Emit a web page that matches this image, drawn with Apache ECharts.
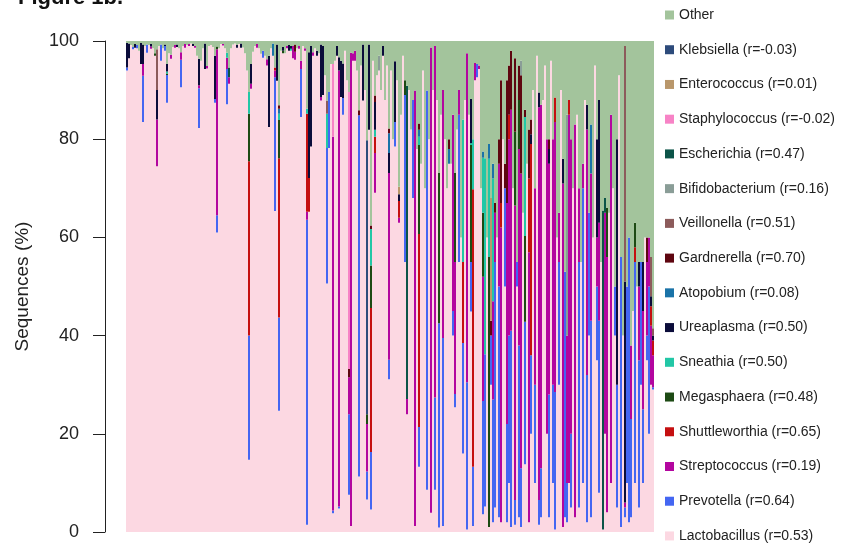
<!DOCTYPE html>
<html>
<head>
<meta charset="utf-8">
<script src="https://cdn.jsdelivr.net/npm/echarts@6/dist/echarts.min.js"></script>
<style>
  html, body { margin: 0; padding: 0; background: #ffffff; }
  #chart { width: 854px; height: 548px; }
</style>
</head>
<body>
<div id="chart"></div>
<script>
// 264 samples, percentages of sequences per genus (stacked to 100).
const sampleCount = 264;

// Dense columns: present in every sample.
const lactobacillus = [
  94, 96.5, 99.2, 98.3, 98.6, 98.5, 98, 95.3, 83.5, 99,
  97.6, 99.2, 98.4, 98.5, 97, 74.5, 99, 96, 98.5, 98,
  87.4, 97.5, 96.4, 98.8, 98.6, 98.8, 98.5, 90.6, 99, 98.6,
  99.2, 99, 99.5, 99, 98.6, 97, 82.3, 96, 98.5, 94.3,
  94.4, 99, 99.2, 98.8, 87.4, 61, 98.5, 99.4, 99.1, 98.5,
  87.1, 91.3, 98.5, 99.3, 99.5, 98.6, 99.4, 98.6, 98.7, 97.5,
  94, 14.7, 90.3, 97.8, 99, 98.6, 98.5, 97.4, 96.6, 97,
  95, 82.5, 98.5, 97, 65.4, 91.9, 24.7, 98, 97.5, 97.5,
  98.5, 98, 98, 96.5, 96.2, 98.5, 98.4, 84.5, 99, 98,
  1.5, 65.2, 78.5, 97, 98.5, 97, 97.5, 87.9, 89, 93,
  50.6, 78.2, 95.3, 3.8, 96, 97, 4.8, 88.6, 85, 98,
  92, 7.6, 1.2, 96, 96, 94, 11.3, 95, 87.9, 90,
  6.6, 81.9, 4.6, 96, 69.1, 93, 94, 90, 97, 88,
  95, 31.1, 94, 80, 78.5, 92, 63, 85, 97, 55,
  24, 90, 82, 68, 1.2, 78, 13.3, 75, 94, 70,
  8.6, 80, 3.9, 90, 8.6, 88, 0.9, 85, 1.2, 80,
  70, 75, 75, 40, 25.4, 82, 55, 60, 16, 88,
  0.5, 85, 44.9, 1.2, 92, 92.6, 94.3, 70, 3.6, 5.2,
  60, 1, 30, 2, 5, 60, 3, 2, 80, 50,
  2, 10, 1, 70, 1.5, 50, 3, 1, 65, 13.8,
  75, 2, 20, 90, 10, 97, 1.5, 3, 88, 95,
  20, 3, 96, 10, 0.5, 60, 30, 90, 1, 3,
  2, 10, 5, 70, 3, 85, 5, 55, 10, 88,
  2, 40, 3, 60, 95, 35, 8, 55, 0.5, 20,
  4, 65, 10, 70, 40, 5, 93, 1, 40, 3,
  10, 2, 3, 45, 10, 50, 5, 30, 10, 60,
  35, 20, 30, 29
];

const other = [
  0.4, 0.5, 0.8, 1.2, 0.6, 0.8, 2, 0.4, 0.7, 1,
  0.7, 0.8, 0.6, 1.5, 2.5, 1.7, 1, 0.7, 1.5, 0.7,
  4.7, 2.5, 2.8, 1.2, 0.8, 0.7, 1.5, 2.3, 1, 0.6,
  0.8, 0.6, 0.5, 0.6, 1, 3, 3.6, 4, 1.5, 0.5,
  5.1, 1, 0.8, 1.2, 3, 1.1, 1.5, 0.6, 0.6, 1.5,
  2.4, 5.4, 1.5, 0.7, 0.5, 0.8, 0.6, 0.5, 1.3, 2.5,
  6, 10.4, 4.7, 2.2, 1, 0.6, 1.5, 2.6, 2, 3,
  3.7, 3, 1.5, 0.5, 5.4, 0.7, 13.1, 2, 1.2, 2.5,
  1, 0.8, 1, 1, 0.7, 1.5, 1, 4, 1, 1.5,
  13.8, 2.3, 1, 2.3, 1.5, 2, 2.5, 0.7, 1, 7,
  12.1, 10.4, 4.7, 4.7, 4, 1, 3.3, 4, 4.6, 2,
  8, 10.4, 2.4, 2.5, 2, 6, 14.1, 5, 0.7, 10,
  20.2, 0.7, 37.6, 4, 11.1, 7, 3, 10, 1, 12,
  5, 17.8, 6, 20, 4.1, 8, 29.7, 15, 3, 8,
  9.1, 10, 18, 12, 10.1, 22, 16.8, 25, 6, 30,
  10.1, 20, 1.3, 10, 1, 12, 26.9, 15, 10, 20,
  30, 20, 25, 15, 26.9, 18, 10, 40, 16, 12,
  2.5, 15, 11.8, 20, 4.5, 4.7, 5, 30, 22.5, 23.9,
  40, 21, 32, 25, 33, 40, 20, 8, 20, 25,
  8, 5, 2, 30, 3.5, 45, 5, 4, 35, 14,
  25, 18, 16, 10, 30, 3, 10.5, 13, 12, 5,
  20, 20, 4, 20, 11.5, 40, 35, 10, 24, 47,
  15, 12, 20, 30, 17, 15, 30, 45, 25, 12,
  13, 35, 17, 40, 5, 20, 12, 45, 34.5, 32,
  34, 35, 15, 30, 50, 20, 7, 44, 60, 1,
  50, 40, 62, 55, 37, 50, 45, 45, 45, 40,
  40, 40, 44, 58.5
];

// Sparse columns: [sample index, percent]; absent samples are 0.
const prevotella = [[0,0.6],[3,0.5],[5,0.7],[8,9.4],[10,1.7],[17,3.3],[19,1],[20,5.7],[27,5.6],[36,8.1],[44,0.8],[45,3.5],[50,7.2],[61,25.3],[68,1.4],[74,27.2],[76,19],[87,9.8],[90,62.1],[100,27.6],[101,11.4],[103,0.6],[106,0.4],[108,3.4],[111,16.4],[116,73.6],[120,5.7],[122,11.7],[131,4],[134,5],[139,34],[143,20],[146,8.1],[150,81.3],[154,18.8],[156,41.6],[158,38.3],[163,5],[164,2.7],[166,30],[168,22.5],[170,30],[172,10.1],[173,12.1],[175,2.7],[178,23.1],[179,31],[182,10],[183,25],[184,50],[186,47],[189,20],[190,20],[191,30],[192,40],[194,5],[195,5],[196,35],[197,12],[199,29],[202,16],[204,20],[206,5],[207,10],[211,25],[213,20],[214,28],[216,25],[219,50],[220,8],[222,15],[226,50],[228,60],[230,30],[231,25],[232,40],[235,15],[236,35],[244,10],[245,25],[247,55],[249,2],[250,40],[251,58],[252,20],[254,45],[256,30],[257,25],[258,15],[260,5],[261,30],[263,0.5]];
const streptococcus = [[8,2.4],[12,0.5],[15,9.5],[22,0.8],[24,0.6],[27,1.5],[29,0.8],[31,0.4],[34,0.4],[36,0.6],[40,0.5],[45,33.8],[48,0.3],[50,2.3],[51,1.3],[62,1],[65,0.8],[70,1.3],[74,1.4],[80,0.5],[83,2.5],[84,1.6],[86,0.6],[87,1.7],[89,0.5],[90,1.6],[93,0.7],[97,0.7],[103,76.1],[106,88.8],[111,7.5],[112,96.4],[113,1.5],[114,2],[120,9.7],[124,8.1],[131,38],[136,1],[140,3.1],[144,88.7],[152,94.8],[154,71.6],[158,50.5],[163,40],[164,26.9],[166,5],[170,67],[174,3.5],[176,0.7],[178,25.3],[183,20],[184,10],[186,25],[187,60],[190,45],[191,40],[192,45],[194,60],[196,40],[197,60],[201,55],[204,40],[206,80],[207,74],[210,60],[211,47],[213,50],[214,55],[216,10],[218,70],[220,30],[221,75],[222,60],[224,80],[226,15],[228,5],[230,50],[232,30],[235,10],[236,20],[239,45],[240,52],[242,75],[249,1],[252,15],[256,15],[258,20],[260,15],[261,10],[262,12],[263,6.5]];
const shuttleworthia = [[61,35.5],[74,0.6],[76,32.4],[90,20],[91,6.9],[122,29.3],[124,3.3],[136,3.4],[146,39.3],[168,16.5],[173,56.5],[187,5],[191,5],[201,15],[202,43],[214,5],[221,3],[254,3],[262,4],[263,3]];
const megasphaera = [[14,0.5],[20,0.3],[45,0.6],[61,9.7],[76,7.8],[78,0.5],[120,2],[122,8.7],[139,3],[146,18.1],[156,30.6],[164,18.1],[172,23.8],[178,13],[181,55],[194,15],[196,10],[199,17.5],[240,10],[254,5]];
const sneathia = [[20,0.4],[50,1],[61,4.4],[76,1.3],[82,0.4],[90,1],[100,7],[122,7.4],[124,1.4],[146,1.7],[168,29],[172,0.4],[173,10.2],[178,11.2],[179,39.9],[181,20],[183,25],[199,24.2]];
const ureaplasma = [[0,5],[1,3],[4,0.8],[7,4.3],[8,4],[12,0.5],[15,6],[19,0.3],[20,1.5],[25,0.5],[33,0.4],[36,5.4],[39,5.2],[44,8.8],[55,0.6],[57,0.9],[62,4],[71,14.5],[75,7.4],[78,0.8],[81,1.2],[82,0.6],[91,25.6],[92,20.5],[95,1],[97,10.7],[98,10],[105,2],[106,2.7],[107,7.4],[108,7],[118,11.4],[121,17.4],[124,5.7],[128,2],[131,4.1],[134,12.4],[136,1.4],[172,9],[202,2],[206,3],[211,3],[218,5],[230,5],[235,20],[236,25],[245,50],[249,45],[256,5],[258,10],[262,2],[263,1]];
const atopobium = [[73,2.5],[76,1],[131,4],[146,1.4],[161,3],[178,1.3],[181,3],[183,3],[232,10]];
const gardnerella = [[76,0.7],[84,1.5],[111,1.7],[116,1],[122,0.7],[124,1.3],[131,1],[146,1.3],[161,2],[182,3],[184,2],[186,5],[187,25],[189,5],[190,25],[191,10],[192,12],[194,15],[196,7],[197,20],[199,1.5],[201,10],[202,3],[211,2],[260,5]];
const veillonella = [[15,8.3],[100,2.7],[249,48],[262,8],[263,1.5]];
const bifidobacterium = [[126,3],[197,3],[220,45]];
const escherichia = [[51,2],[140,63.8],[238,65],[239,3]];
const staphylococcus = [[103,14.8],[111,56.4]];
const enterococcus = [[136,1.5],[182,25]];
const klebsiella = [[120,55.8]];

const yTicks = [0, 20, 40, 60, 80, 100];

function toColumn(pairs) {
  const col = new Array(sampleCount).fill(0);
  pairs.forEach(([i, v]) => { col[i] = v; });
  return col;
}

// Stack order, bottom to top.
const taxa = [
  { name: 'Lactobacillus (r=0.53)',   color: '#fcd8e2', values: lactobacillus },
  { name: 'Prevotella (r=0.64)',      color: '#4466f2', values: toColumn(prevotella) },
  { name: 'Streptococcus (r=0.19)',   color: '#b3069f', values: toColumn(streptococcus) },
  { name: 'Shuttleworthia (r=0.65)',  color: '#c50f10', values: toColumn(shuttleworthia) },
  { name: 'Megasphaera (r=0.48)',     color: '#1d4a14', values: toColumn(megasphaera) },
  { name: 'Sneathia (r=0.50)',        color: '#22c7a6', values: toColumn(sneathia) },
  { name: 'Ureaplasma (r=0.50)',      color: '#0b0c3a', values: toColumn(ureaplasma) },
  { name: 'Atopobium (r=0.08)',       color: '#1a73a8', values: toColumn(atopobium) },
  { name: 'Gardnerella (r=0.70)',     color: '#5e0610', values: toColumn(gardnerella) },
  { name: 'Veillonella (r=0.51)',     color: '#8c5b5b', values: toColumn(veillonella) },
  { name: 'Bifidobacterium (r=0.16)', color: '#8a9d97', values: toColumn(bifidobacterium) },
  { name: 'Escherichia (r=0.47)',     color: '#0c5448', values: toColumn(escherichia) },
  { name: 'Staphylococcus (r=-0.02)', color: '#f783c6', values: toColumn(staphylococcus) },
  { name: 'Enterococcus (r=0.01)',    color: '#b9976b', values: toColumn(enterococcus) },
  { name: 'Klebsiella (r=-0.03)',     color: '#2d4b7b', values: toColumn(klebsiella) },
  { name: 'Other',                    color: '#a3c49c', values: other }
];

const categories = lactobacillus.map((_, i) => 'S' + (i + 1));
const font = '"Liberation Sans", Arial, Helvetica, sans-serif';

const chart = echarts.init(document.getElementById('chart'), null, { renderer: 'canvas' });
chart.setOption({
  animation: false,
  backgroundColor: '#ffffff',
  graphic: [{
    type: 'text',
    x: 18, y: -2,
    style: {
      text: 'Figure 1b.',
      font: 'bold 22px ' + font,
      fill: '#111',
      verticalAlign: 'middle'
    }
  }],
  grid: { left: 126, top: 41, width: 528, height: 491, containLabel: false, outerBoundsMode: 'none' },
  legend: {
    orient: 'vertical',
    left: 665, top: 8,
    padding: 0,
    itemWidth: 9, itemHeight: 9, itemGap: 20.73,
    icon: 'rect',
    selectedMode: false,
    textStyle: { fontFamily: font, fontSize: 14, color: '#222', lineHeight: 14 },
    data: taxa.slice().reverse().map(t => t.name)
  },
  xAxis: {
    type: 'category',
    data: categories,
    axisLine: { show: false }, axisTick: { show: false }, axisLabel: { show: false },
    splitLine: { show: false }
  },
  yAxis: {
    type: 'value',
    min: 0, max: 100, interval: 20,
    offset: 21,
    name: 'Sequences (%)',
    nameLocation: 'middle',
    nameGap: 73,
    nameTextStyle: { fontFamily: font, fontSize: 19, color: '#222' },
    axisLine: { show: true, lineStyle: { color: '#222', width: 1 } },
    axisTick: { show: true, length: 12, lineStyle: { color: '#222', width: 1 } },
    axisLabel: {
      fontFamily: font, fontSize: 18, color: '#222', margin: 26,
      formatter: v => (yTicks.includes(v) ? String(v) : '')
    },
    splitLine: { show: false }
  },
  series: taxa.map(t => ({
    name: t.name,
    type: 'bar',
    stack: 'total',
    data: t.values,
    barCategoryGap: '0%',
    barGap: '0%',
    itemStyle: { color: t.color, borderWidth: 0 },
    emphasis: { disabled: true }
  }))
});
</script>
</body>
</html>
